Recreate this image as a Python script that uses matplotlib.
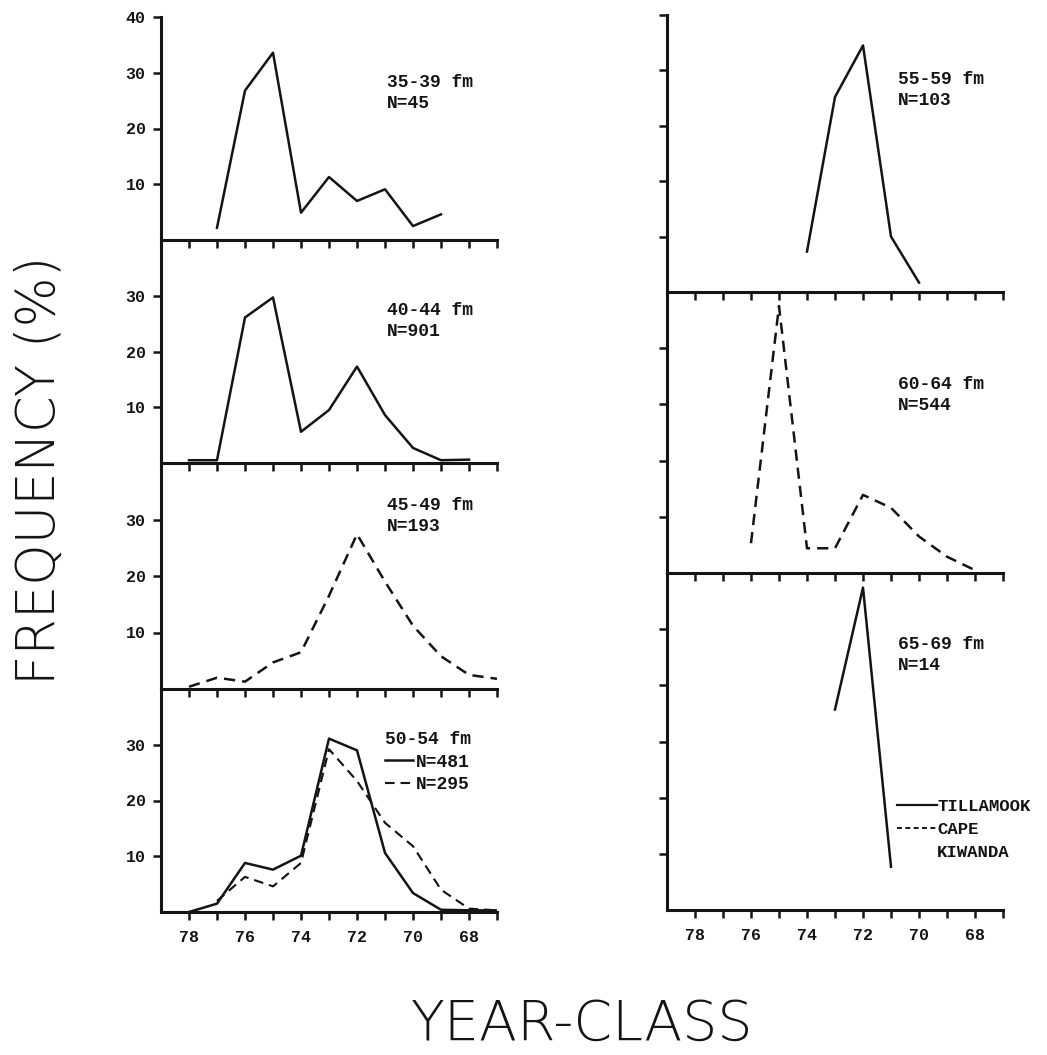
import matplotlib
matplotlib.use("Agg")
import matplotlib.pyplot as plt
from matplotlib.lines import Line2D

# ---------------- data (year-class vs frequency %) ----------------
years_35_39 = [77, 76, 75, 74, 73, 72, 71, 70, 69]
freq_35_39 = [2.2, 26.8, 33.6, 4.9, 11.3, 7.0, 9.1, 2.5, 4.6]

years_40_44 = [78, 77, 76, 75, 74, 73, 72, 71, 70, 69, 68]
freq_40_44 = [0.5, 0.5, 26.1, 29.7, 5.6, 9.5, 17.3, 8.6, 2.7, 0.5, 0.6]

years_45_49 = [78, 77, 76, 75, 74, 73, 72, 71, 70, 69, 68, 67]
freq_45_49 = [0.4, 2.0, 1.3, 4.7, 6.5, 16.5, 27.4, 19.0, 11.2, 5.8, 2.5, 1.8]

years_50_54_t = [78, 77, 76, 75, 74, 73, 72, 71, 70, 69, 68, 67]
freq_50_54_t = [0.0, 1.5, 8.8, 7.6, 10.1, 31.1, 29.0, 10.6, 3.4, 0.4, 0.3, 0.3]
years_50_54_c = [77, 76, 75, 74, 73, 72, 71, 70, 69, 68, 67]
freq_50_54_c = [2.0, 6.3, 4.6, 8.8, 29.2, 23.5, 16.0, 11.8, 4.0, 0.6, 0.3]

years_55_59 = [74, 73, 72, 71, 70]
freq_55_59 = [7.3, 35.2, 44.5, 10.0, 1.7]

years_60_64 = [76, 75, 74, 73, 72, 71, 70, 69, 68]
freq_60_64 = [5.3, 47.5, 4.4, 4.4, 13.9, 11.6, 6.5, 2.9, 0.5]

years_65_69 = [73, 72, 71]
freq_65_69 = [35.7, 57.4, 7.7]

depth_labels = ["35-39 fm", "40-44 fm", "45-49 fm", "50-54 fm",
                "55-59 fm", "60-64 fm", "65-69 fm"]
n_labels = ["N=45", "N=901", "N=193", "N=481", "N=295",
            "N=103", "N=544", "N=14"]
legend_labels = ["TILLAMOOK", "CAPE", "KIWANDA"]
major_years = [78, 76, 74, 72, 70, 68]
minor_years = [77, 75, 73, 71, 69, 67]

# ---------------- figure ----------------
W, H = 1047, 1055
fig = plt.figure(figsize=(W / 100, H / 100), dpi=100)

INK = "#141414"
MONO = ["Liberation Mono", "DejaVu Sans Mono"]
LW = 1.8
DASH = (4.5, 2.8)


def add_ax(x0, x1, ytop, ybot):
    return fig.add_axes([x0 / W, 1 - ybot / H, (x1 - x0) / W, (ybot - ytop) / H])


def style(ax, ymax, yticks, ylabels, xlabels):
    ax.set_xlim(79, 67)
    ax.set_ylim(0, ymax)
    for s in ("top", "right"):
        ax.spines[s].set_visible(False)
    for s in ("left", "bottom"):
        ax.spines[s].set_linewidth(2.2)
        ax.spines[s].set_color(INK)
    ax.set_xticks(major_years)
    ax.set_xticks(minor_years, minor=True)
    ax.set_yticks(yticks)
    ax.tick_params(axis="both", which="both", direction="out", length=6,
                   width=1.8, color=INK, labelcolor=INK, labelsize=12)
    ax.tick_params(axis="x", labelbottom=xlabels, pad=7)
    ax.tick_params(axis="y", labelleft=ylabels, pad=5)
    for lab in ax.get_xticklabels() + ax.get_yticklabels():
        lab.set_family(MONO)
        lab.set_fontweight("bold")
    ax.patch.set_alpha(0)


def annotate(ax, x, y, text):
    ax.text(x, y, text, transform=ax.transAxes, family=MONO, fontsize=13,
            fontweight="bold", color=INK, ha="left", va="center",
            linespacing=1.3)


LX0, LX1 = 161, 497
RX0, RX1 = 667, 1003
left_edges = [17, 240, 463, 689, 912]
right_edges = [15, 292, 573, 910]

# ---- left column ----
axL = [add_ax(LX0, LX1, left_edges[i], left_edges[i + 1]) for i in range(4)]

style(axL[0], 40, [10, 20, 30, 40], True, False)
axL[0].plot(years_35_39, freq_35_39, color=INK, lw=LW)
annotate(axL[0], 0.673, 0.66, depth_labels[0] + "\n" + n_labels[0])

style(axL[1], 40, [10, 20, 30], True, False)
axL[1].plot(years_40_44, freq_40_44, color=INK, lw=LW)
annotate(axL[1], 0.673, 0.635, depth_labels[1] + "\n" + n_labels[1])

style(axL[2], 40, [10, 20, 30], True, False)
axL[2].plot(years_45_49, freq_45_49, color=INK, lw=LW, dashes=DASH)
annotate(axL[2], 0.673, 0.765, depth_labels[2] + "\n" + n_labels[2])

style(axL[3], 40, [10, 20, 30], True, True)
lt, = axL[3].plot(years_50_54_t, freq_50_54_t, color=INK, lw=LW,
                  label=n_labels[3])
lc, = axL[3].plot(years_50_54_c, freq_50_54_c, color=INK, lw=LW * 0.85,
                  dashes=DASH, label=n_labels[4])
leg = axL[3].legend(handles=[lt, lc], loc="upper left",
                    bbox_to_anchor=(0.668, 0.81), frameon=False,
                    title=depth_labels[3], alignment="left",
                    handlelength=1.5, handletextpad=0.2, labelspacing=0.3,
                    borderpad=0, borderaxespad=0,
                    prop={"family": MONO, "size": 13, "weight": "bold"},
                    title_fontproperties={"family": MONO, "size": 13,
                                          "weight": "bold"})
for t in leg.get_texts():
    t.set_color(INK)
leg.get_title().set_color(INK)

# ---- right column ----
axR = [add_ax(RX0, RX1, right_edges[i], right_edges[i + 1]) for i in range(3)]

style(axR[0], 50, [10, 20, 30, 40, 50], False, False)
axR[0].plot(years_55_59, freq_55_59, color=INK, lw=LW)
annotate(axR[0], 0.6875, 0.73, depth_labels[4] + "\n" + n_labels[5])

style(axR[1], 50, [10, 20, 30, 40], False, False)
axR[1].plot(years_60_64, freq_60_64, color=INK, lw=LW, dashes=DASH)
annotate(axR[1], 0.6875, 0.633, depth_labels[5] + "\n" + n_labels[6])

style(axR[2], 60, [10, 20, 30, 40, 50], False, True)
axR[2].plot(years_65_69, freq_65_69, color=INK, lw=LW)
annotate(axR[2], 0.6875, 0.758, depth_labels[6] + "\n" + n_labels[7])

h_t = Line2D([], [], color=INK, lw=1.6)
h_c = Line2D([], [], color=INK, lw=1.4, dashes=(2.5, 1.8))
h_none = Line2D([], [], color="none", lw=0)
leg2 = axR[2].legend(handles=[h_t, h_c, h_none], labels=legend_labels,
                     loc="upper left", bbox_to_anchor=(0.685, 0.33),
                     frameon=False, handlelength=2.3, handletextpad=0.0,
                     labelspacing=0.45, borderpad=0, borderaxespad=0,
                     prop={"family": MONO, "size": 12.5, "weight": "bold"})
for t in leg2.get_texts():
    t.set_color(INK)

# ---- axis titles ----
fig.text(40 / W, 1 - 470 / H, "FREQUENCY (%)", rotation=90, ha="center",
         va="center", fontsize=38, fontweight="light", color=INK,
         family=["DejaVu Sans"])
fig.text(582 / W, 1 - 1025 / H, "YEAR-CLASS", ha="center", va="center",
         fontsize=40, fontweight="light", color=INK, family=["DejaVu Sans"])

fig.savefig("out.png", dpi=100, facecolor="white")
